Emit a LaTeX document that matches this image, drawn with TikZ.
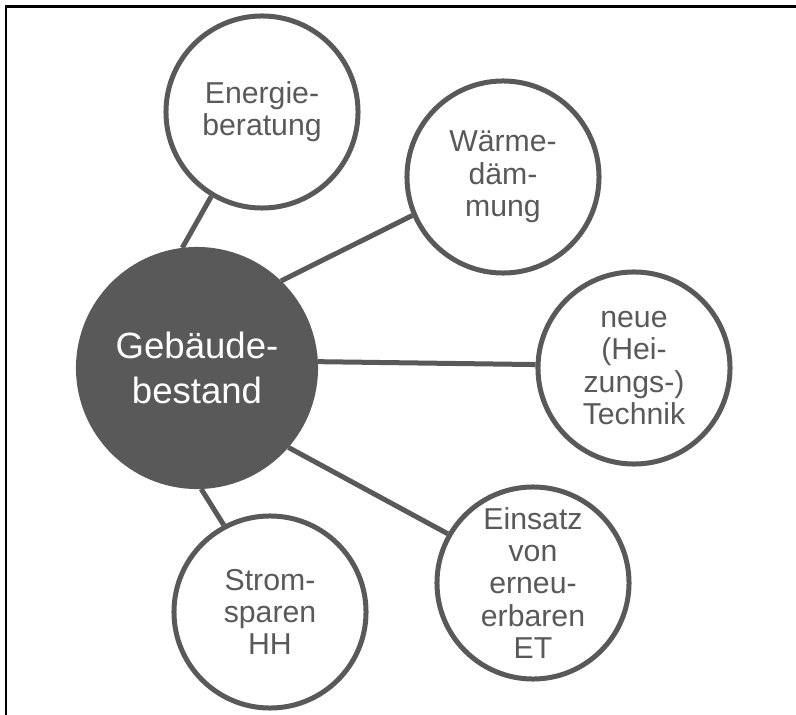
\documentclass[tikz,border=0pt]{standalone}
\usepackage{fontspec}
\setmainfont{Liberation Sans}
\usepackage{xcolor}
\usepackage{tikz}
\usetikzlibrary{positioning}

\definecolor{ringgray}{HTML}{595959}

\begin{document}
\begin{tikzpicture}[
    x=0.025cm, y=-0.025cm,
    hub/.style={circle, draw=ringgray, fill=ringgray, line width=0.125cm, minimum size=5.925cm, inner sep=0pt, align=center, text=white, font=\fontsize{26}{32}\selectfont},
    topic/.style={circle, draw=ringgray, fill=white, line width=0.125cm, minimum size=4.8cm, inner sep=0pt, align=center, text=ringgray, font=\fontsize{21.5}{23}\selectfont},
    link/.style={draw=ringgray, line width=0.125cm}
]
    \useasboundingbox (0,0) rectangle (796,715);

    % Frame
    \draw[line width=0.075cm] (5,6.5) -- (796,6.5);
    \draw[line width=0.05cm] (6,5) -- (6,715);

    % Center
    \node[hub] (bestand) at (197,368) {Gebäude-\\bestand};

    % Topics
    \node[topic] (beratung) at (262,112) {Energie-\\beratung};
    \node[topic] (daemmung) at (503,177) {Wärme-\\däm-\\mung};
    \node[topic] (technik)  at (634,368) {neue\\(Hei-\\zungs-)\\Technik};
    \node[topic] (erneuer)  at (533,583) {Einsatz\\von\\erneu-\\erbaren\\ET};
    \node[topic] (strom)    at (270,612) {Strom-\\sparen\\HH};

    % Links
    \draw[link] (bestand.97)  -- (beratung.239);
    \draw[link] (bestand.46)  -- (daemmung.203);
    \draw[link] (bestand.3)   -- (technik.178);
    \draw[link] (bestand.-41) -- (erneuer.150);
    \draw[link] (bestand.-88) -- (strom.118);
\end{tikzpicture}
\end{document}
